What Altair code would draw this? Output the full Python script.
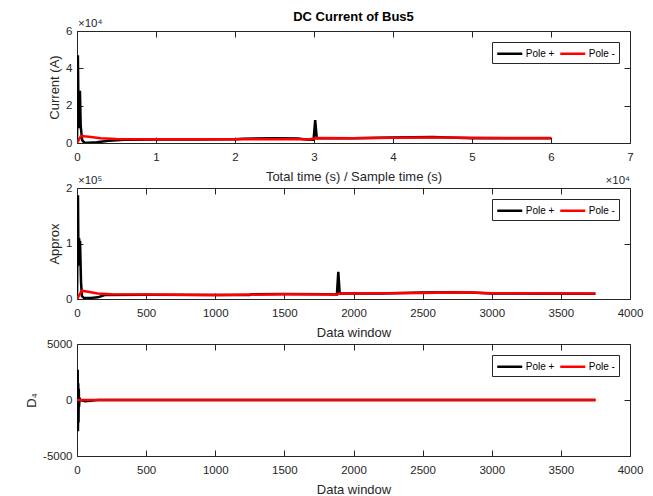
import altair as alt
import pandas as pd

FONT = "Liberation Sans"
INK = "#262626"
SERIES = ["Pole +", "Pole -"]
COLORS = ["#000000", "#ff0000"]

# ---------- Panel 1: DC current (A) vs total time / sample time ----------
p1_pos_x = [0, 110, 200, 280, 370, 470, 650, 900, 1500, 2500, 4000, 6000, 10000,
            15000, 20000, 21000, 25000, 28000, 29000, 29950, 30150, 30350, 35000,
            40000, 45000, 50000, 55000, 60000]
p1_pos_y = [0, 47000, 15000, 8000, 28000, 9000, 1500, 300, 200, 400, 1200, 1800, 1900,
            1900, 2000, 2300, 2500, 2400, 1900, 1800, 12300, 2600, 2500,
            3000, 3200, 2600, 2600, 2600]
p1_neg_x = [0, 500, 1500, 3000, 5000, 10000, 15000, 20000, 25000, 29500, 30300,
            35000, 40000, 45000, 50000, 55000, 60000]
p1_neg_y = [0, 3700, 3300, 2600, 2200, 2000, 1950, 1950, 2050, 2000, 2700,
            2600, 2800, 3000, 2800, 2700, 2700]

# ---------- Panel 2: approximation vs data window ----------
p2_pos_x = [0, 7, 11, 15, 18, 22, 29, 36, 50, 100, 150, 200, 500, 1000, 1250, 1260,
            1500, 1800, 1880, 1890, 1900, 2200, 2500, 2800, 3000, 3750]
p2_pos_y = [0, 187000, 60000, 110000, 85000, 105000, 30000, 5000, 2000, 2000, 3000,
            7000, 7500, 7000, 7000, 8500, 9000, 8500, 8000, 49000, 10000, 10000,
            11500, 12000, 10000, 9500]
p2_neg_x = [0, 35, 80, 150, 250, 500, 1000, 1500, 1880, 1900, 2500, 2800, 3000, 3750]
p2_neg_y = [0, 15000, 13000, 10000, 8500, 8000, 7000, 8500, 8000, 10000, 11000,
            12000, 10500, 10000]

# ---------- Panel 3: detail D4 vs data window ----------
p3_pos_x = [0, 5, 7, 9, 11, 13, 15, 18, 22, 60, 150, 3750]
p3_pos_y = [0, 2700, -2800, 1500, -2000, 1000, -600, 200, 0, -100, 0, 0]
p3_neg_x = [0, 3750]
p3_neg_y = [0, 0]

W = 553


def frame(xp, yp, xn, yn):
    return pd.DataFrame({
        "x": list(xp) + list(xn),
        "y": list(yp) + list(yn),
        "series": [SERIES[0]] * len(xp) + [SERIES[1]] * len(xn),
    })


def panel(df, H, xd, xt, xlab, xtitle, yd, yt, ylab, ytitle, notes, title=None):
    sx = alt.Scale(domain=xd, nice=False, zero=False)
    sy = alt.Scale(domain=yd, nice=False, zero=False)
    ax_main = alt.Axis(orient="bottom", values=xt, labelExpr=xlab, title=xtitle,
                       ticks=False, domain=False, grid=False, labelPadding=8,
                       titlePadding=8, labelFlush=False)
    ay_main = alt.Axis(orient="left", values=yt, labelExpr=ylab, title=ytitle,
                       ticks=False, domain=False, grid=False, labelPadding=5,
                       titlePadding=4)
    legend = alt.Legend(title=None, orient="top-right", direction="horizontal",
                        offset=11, padding=4, fillColor="white", strokeColor=INK,
                        symbolType="M-2,0H2", symbolSize=156, symbolStrokeWidth=2.5,
                        symbolOffset=6.25, labelOffset=8.5, columnPadding=0,
                        labelFontSize=10, labelFont=FONT, labelColor="#000000")
    lines = alt.Chart(df).mark_line(strokeWidth=2.5, clip=True).encode(
        x=alt.X("x:Q", scale=sx, axis=ax_main),
        y=alt.Y("y:Q", scale=sy, axis=ay_main),
        color=alt.Color("series:N", scale=alt.Scale(domain=SERIES, range=COLORS),
                        legend=legend),
    )

    def tick_layer(xo, yo):
        return alt.Chart(df).mark_point(opacity=0).encode(
            x=alt.X("x:Q", axis=alt.Axis(orient=xo, offset=-H, values=xt, labels=False,
                                         domain=False, grid=False, tickSize=6,
                                         title=None)),
            y=alt.Y("y:Q", axis=alt.Axis(orient=yo, offset=-W, values=yt, labels=False,
                                         domain=False, grid=False, tickSize=6,
                                         title=None)),
        )

    layers = [lines, tick_layer("top", "right"), tick_layer("bottom", "left")]
    for txt, px, align in notes:
        layers.append(
            alt.Chart(pd.DataFrame({"t": [txt]})).mark_text(
                align=align, baseline="bottom", fontSize=11.5, font=FONT, color=INK
            ).encode(text="t:N", x=alt.value(px), y=alt.value(-2))
        )
    ch = alt.layer(*layers).resolve_axis(x="independent", y="independent")
    props = dict(width=W, height=H)
    if title is not None:
        props["title"] = alt.TitleParams(title, fontSize=13, fontWeight="bold", font=FONT,
                                         color="#000000", offset=-6, anchor="middle",
                                         frame="group")
    return ch.properties(**props)


p1 = panel(frame(p1_pos_x, p1_pos_y, p1_neg_x, p1_neg_y), 112,
           [0, 70000], [0, 10000, 20000, 30000, 40000, 50000, 60000, 70000],
           "datum.value/10000", "Total time (s) / Sample time (s)",
           [0, 60000], [0, 20000, 40000, 60000], "datum.value/10000", "Current (A)",
           [("×10⁴", 1, "left")], title="DC Current of Bus5")

p2 = panel(frame(p2_pos_x, p2_pos_y, p2_neg_x, p2_neg_y), 111,
           [0, 4000], [0, 500, 1000, 1500, 2000, 2500, 3000, 3500, 4000],
           "datum.value", "Data window",
           [0, 200000], [0, 100000, 200000], "datum.value/100000", "Approx",
           [("×10⁵", 1, "left"), ("×10⁴", W, "right")])

p3 = panel(frame(p3_pos_x, p3_pos_y, p3_neg_x, p3_neg_y), 112,
           [0, 4000], [0, 500, 1000, 1500, 2000, 2500, 3000, 3500, 4000],
           "datum.value", "Data window",
           [-5000, 5000], [-5000, 0, 5000], "datum.value", "D₄",
           [])

chart = alt.vconcat(p1, p2, p3, spacing=45, bounds="flush").resolve_scale(
    color="independent").resolve_legend(color="independent").properties(
    padding={"left": 25, "top": 10, "right": 5, "bottom": 0},
    background="white",
).configure_view(stroke=INK, strokeWidth=1).configure_axis(
    labelFont=FONT, titleFont=FONT, labelFontSize=11.5, titleFontSize=13,
    labelColor=INK, titleColor=INK, tickColor=INK, titleFontWeight="normal",
)

chart.save("out.html", embed_options={"renderer": "svg", "actions": False})
